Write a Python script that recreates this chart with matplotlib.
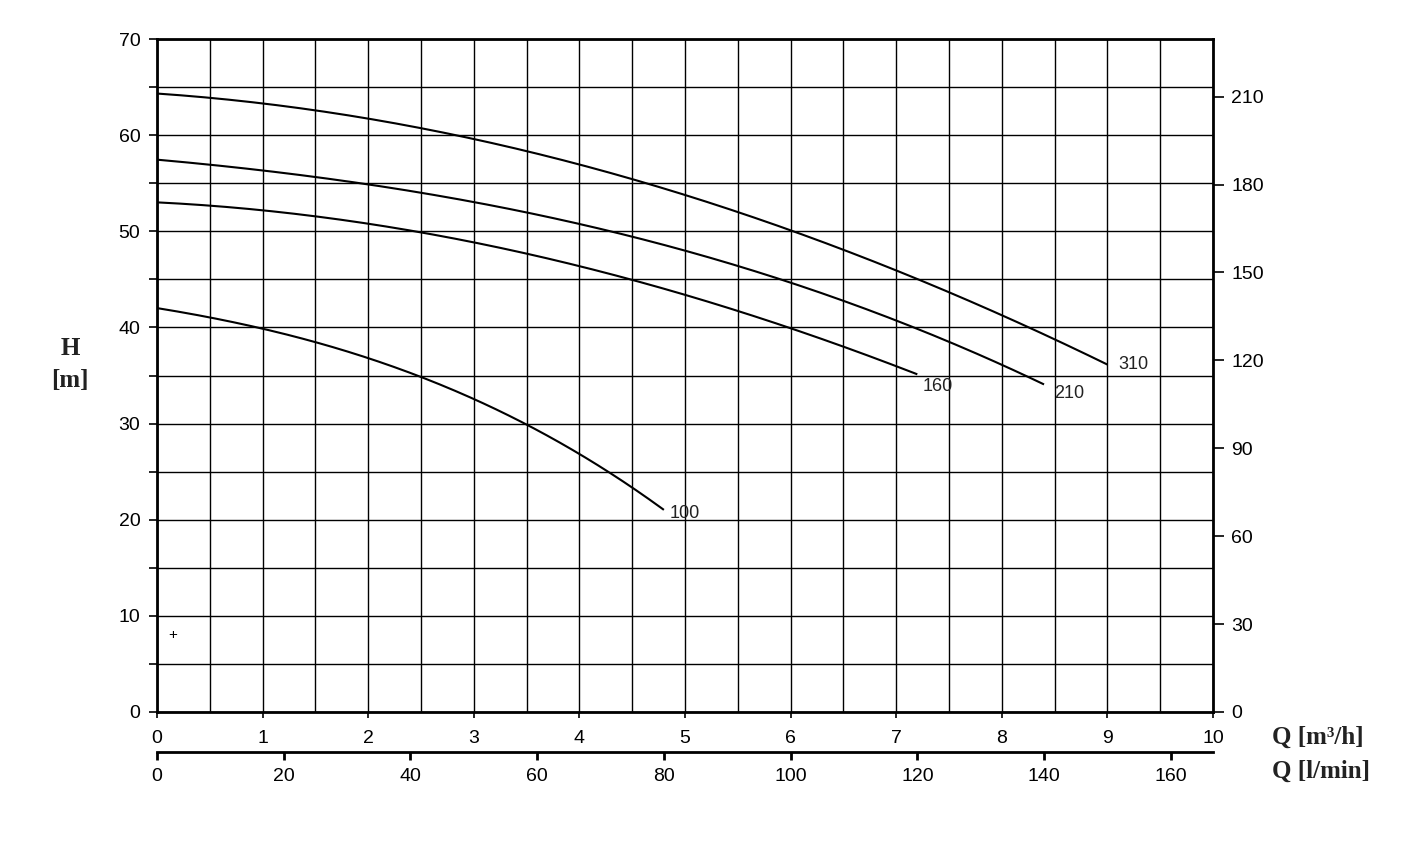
import matplotlib
matplotlib.use("Agg")
import matplotlib.pyplot as plt
import numpy as np

# Data (Q in m3/h, H in m)
q_310 = [0, 1, 2, 3, 4, 5, 6, 7, 8, 9]
h_310 = [64.3, 63.3, 61.8, 59.6, 56.9, 53.7, 50.1, 46.0, 41.3, 36.1]
q_210 = [0, 1, 2, 3, 4, 5, 6, 7, 8, 8.4]
h_210 = [57.4, 56.4, 54.9, 53.0, 50.8, 47.9, 44.6, 40.8, 36.3, 33.9]
q_160 = [0, 1, 2, 3, 4, 5, 6, 7, 7.2]
h_160 = [53.0, 52.2, 50.8, 48.8, 46.4, 43.4, 39.9, 36.0, 35.1]
q_100 = [0, 1, 2, 3, 4, 4.8]
h_100 = [42.0, 39.9, 36.8, 32.5, 26.9, 21.0]
curve_names = ["310", "210", "160", "100"]

x_ticks = list(range(0, 11))
y_ticks = list(range(0, 71, 10))
ft_ticks = [0, 30, 60, 90, 120, 150, 180, 210]
lmin_ticks = [0, 20, 40, 60, 80, 100, 120, 140, 160]

M_TO_FT = 3.28084
M3H_TO_LMIN = 1000.0 / 60.0

plt.rcParams['font.family'] = ['Liberation Sans', 'DejaVu Sans']

fig = plt.figure(figsize=(14.22, 8.51), dpi=100)
ax = fig.add_axes([157/1422, (851-712)/851, (1213-157)/1422, (712-39)/851])

curves = [(q_310, h_310), (q_210, h_210), (q_160, h_160), (q_100, h_100)]
for (q, h), name in zip(curves, curve_names):
    qs = np.linspace(q[0], q[-1], 200)
    c = np.polyfit(q, h, 3)
    ax.plot(qs, np.polyval(c, qs), color='black', lw=1.5, solid_capstyle='butt')

label_off = {"310": (0.1, 0.0), "210": (0.1, -0.8), "160": (0.05, -1.2), "100": (0.05, -0.4)}
for (q, h), name in zip(curves, curve_names):
    dx, dy = label_off[name]
    ax.text(q[-1] + dx, h[-1] + dy, name, fontsize=13, ha='left', va='center', color='#222222')

ax.text(0.15, 8.0, "+", fontsize=11, ha='center', va='center')

ax.set_xlim(0, 10)
ax.set_ylim(0, 70)
ax.set_xticks(x_ticks)
ax.set_xticks(np.arange(0.5, 10, 1.0), minor=True)
ax.set_yticks(y_ticks)
ax.set_yticks(np.arange(5, 70, 10), minor=True)
ax.grid(True, which='both', color='black', lw=1.0)
ax.set_axisbelow(True)
for s in ax.spines.values():
    s.set_linewidth(2.0)
ax.tick_params(axis='y', which='both', direction='out', length=6, width=1.2, labelsize=14, pad=6)
ax.tick_params(axis='x', which='major', direction='out', length=4, width=1.2, labelsize=14, pad=9)
ax.tick_params(axis='x', which='minor', length=0)

# right axis in feet
axr = ax.twinx()
axr.set_ylim(0, 70 * M_TO_FT)
axr.set_yticks(ft_ticks)
axr.tick_params(axis='y', direction='out', length=8, width=1.2, labelsize=14, pad=5)
for s in axr.spines.values():
    s.set_visible(False)

# second bottom axis in l/min
axb = ax.twiny()
axb.set_xlim(0, 10 * M3H_TO_LMIN)
axb.xaxis.set_ticks_position('bottom')
axb.xaxis.set_label_position('bottom')
axb.spines['bottom'].set_position(('outward', 29))
for k in ['top', 'left', 'right']:
    axb.spines[k].set_visible(False)
axb.spines['bottom'].set_linewidth(2.0)
axb.set_xticks(lmin_ticks)
axb.tick_params(axis='x', direction='out', length=6, width=2.0, labelsize=14, pad=5)

serif = ['Liberation Serif', 'DejaVu Serif']
fig.text(70/1422, 1 - 348/851, "H", family=serif, fontweight='bold', fontsize=18, ha='center', va='center', color='#222222')
fig.text(70/1422, 1 - 381/851, "[m]", family=serif, fontweight='bold', fontsize=18, ha='center', va='center', color='#222222')
fig.text(1272/1422, 1 - 737/851, "Q [m³/h]", family=serif, fontweight='bold', fontsize=18, ha='left', va='center', color='#222222')
fig.text(1272/1422, 1 - 771/851, "Q [l/min]", family=serif, fontweight='bold', fontsize=18, ha='left', va='center', color='#222222')

fig.savefig("out.png", dpi=100)
